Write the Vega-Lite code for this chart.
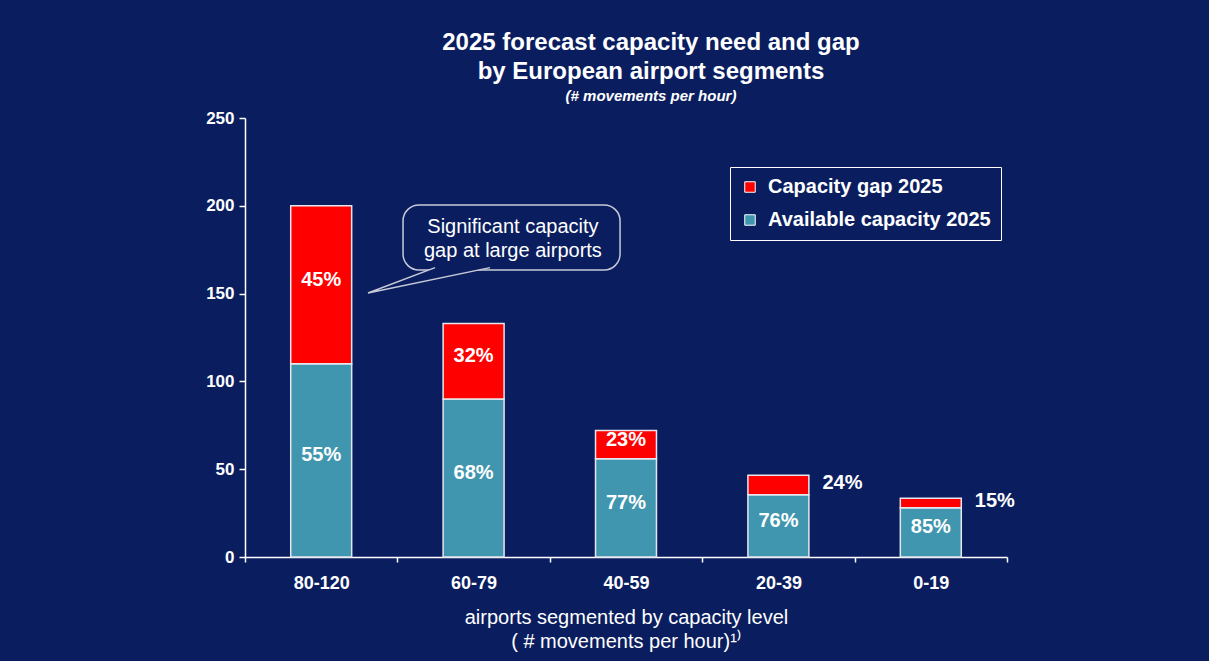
{
  "$schema": "https://vega.github.io/schema/vega-lite/v6.json",
  "width": 762,
  "height": 439,
  "autosize": {"type": "none"},
  "padding": {"left": 245, "top": 118, "right": 202, "bottom": 104},
  "background": "#0a1e5f",
  "config": {
    "view": {"stroke": null},
    "font": "Liberation Sans"
  },
  "title": {
    "text": ["2025 forecast capacity need and gap", "by European airport segments"],
    "subtitle": "(# movements per hour)",
    "font": "Liberation Sans",
    "fontSize": 24,
    "fontWeight": "bold",
    "color": "#ffffff",
    "lineHeight": 29,
    "subtitleFont": "Liberation Sans",
    "subtitleFontSize": 15,
    "subtitleFontStyle": "italic",
    "subtitleFontWeight": "bold",
    "subtitleColor": "#ffffff",
    "subtitlePadding": 5,
    "anchor": "middle",
    "dx": 25,
    "offset": 5
  },
  "datasets": {
    "bars": [
      {"segment": "80-120", "type": "Available capacity 2025", "value": 110, "pct": "55%"},
      {"segment": "80-120", "type": "Capacity gap 2025", "value": 90, "pct": "45%"},
      {"segment": "60-79", "type": "Available capacity 2025", "value": 90, "pct": "68%"},
      {"segment": "60-79", "type": "Capacity gap 2025", "value": 43, "pct": "32%"},
      {"segment": "40-59", "type": "Available capacity 2025", "value": 56, "pct": "77%"},
      {"segment": "40-59", "type": "Capacity gap 2025", "value": 16, "pct": "23%"},
      {"segment": "20-39", "type": "Available capacity 2025", "value": 35.5, "pct": "76%"},
      {"segment": "20-39", "type": "Capacity gap 2025", "value": 11, "pct": "24%"},
      {"segment": "0-19", "type": "Available capacity 2025", "value": 28, "pct": "85%"},
      {"segment": "0-19", "type": "Capacity gap 2025", "value": 5.5, "pct": "15%"}
    ],
    "bubble": [
      {"ax1": 1.037, "ax2": 2.461, "ay1": 163.4, "ay2": 200.5, "ax": 1.758, "ay": 188.0, "label": "Significant capacity\ngap at large airports"}
    ],
    "tail": [
      {"o": 1, "ax": 1.247, "ay": 164.8},
      {"o": 2, "ax": 0.807, "ay": 150.3},
      {"o": 3, "ax": 1.608, "ay": 164.8}
    ]
  },
  "resolve": {"scale": {"x": "independent", "y": "independent"}, "axis": {"x": "independent", "y": "independent"}},
  "layer": [
    {
      "data": {"name": "bars"},
      "layer": [
        {
          "mark": {"type": "bar", "width": {"band": 0.4}, "stroke": "#e6e6ee", "strokeWidth": 1.5},
          "encoding": {
            "x": {
              "field": "segment",
              "type": "nominal",
              "sort": ["80-120", "60-79", "40-59", "20-39", "0-19"],
              "scale": {"domain": ["80-120", "60-79", "40-59", "20-39", "0-19"], "paddingInner": 0, "paddingOuter": 0},
              "axis": {
                "title": ["airports segmented by capacity level", "( # movements per hour)¹⁾"],
                "titleFont": "Liberation Sans",
                "titleFontSize": 20,
                "titleFontWeight": "normal",
                "titleColor": "#ffffff",
                "titleLineHeight": 24,
                "titlePadding": 15,
                "labelAngle": 0,
                "labelFont": "Liberation Sans",
                "labelFontSize": 18,
                "labelFontWeight": "bold",
                "labelColor": "#ffffff",
                "labelPadding": 12,
                "tickBand": "extent",
                "tickColor": "#ffffff",
                "tickSize": 5,
                "tickWidth": 1.5,
                "domainColor": "#ffffff",
                "domainWidth": 1.5,
                "grid": false
              }
            },
            "y": {
              "field": "value",
              "type": "quantitative",
              "stack": "zero",
              "scale": {"domain": [0, 250], "nice": false},
              "axis": {
                "title": null,
                "values": [0, 50, 100, 150, 200, 250],
                "labelFont": "Liberation Sans",
                "labelFontSize": 17,
                "labelFontWeight": "bold",
                "labelColor": "#ffffff",
                "labelPadding": 5,
                "tickColor": "#ffffff",
                "tickSize": 6,
                "tickWidth": 1.5,
                "domainColor": "#ffffff",
                "domainWidth": 1.5,
                "grid": false
              }
            },
            "color": {
              "field": "type",
              "type": "nominal",
              "scale": {"domain": ["Capacity gap 2025", "Available capacity 2025"], "range": ["#ff0000", "#4096af"]},
              "legend": {
                "title": null,
                "orient": "none",
                "legendX": 485,
                "legendY": 49,
                "fillColor": "#0a1e5f",
                "strokeColor": "#ffffff",
                "padding": 10,
                "rowPadding": 13,
                "symbolType": "square",
                "symbolSize": 110,
                "symbolStrokeColor": "#ffffff",
                "symbolStrokeWidth": 1,
                "symbolOpacity": 1,
                "labelFont": "Liberation Sans",
                "labelFontSize": 20,
                "labelFontWeight": "bold",
                "labelColor": "#ffffff",
                "labelOffset": 8,
                "labelLimit": 400
              }
            },
            "order": {"field": "type", "sort": "ascending"}
          }
        },
        {
          "transform": [
            {"stack": "value", "groupby": ["segment"], "sort": [{"field": "type", "order": "ascending"}], "as": ["v0", "v1"]},
            {"calculate": "(datum.v0 + datum.v1) / 2", "as": "mid"},
            {"filter": "datum.value >= 12"}
          ],
          "mark": {"type": "text", "font": "Liberation Sans", "fontSize": 20, "fontWeight": "bold", "color": "#ffffff", "align": "center", "baseline": "middle", "dy": -5},
          "encoding": {
            "x": {"field": "segment", "type": "nominal"},
            "y": {"field": "mid", "type": "quantitative"},
            "text": {"field": "pct"}
          }
        },
        {
          "transform": [
            {"stack": "value", "groupby": ["segment"], "sort": [{"field": "type", "order": "ascending"}], "as": ["v0", "v1"]},
            {"calculate": "(datum.v0 + datum.v1) / 2", "as": "mid"},
            {"filter": "datum.value < 12"}
          ],
          "mark": {"type": "text", "font": "Liberation Sans", "fontSize": 20, "fontWeight": "bold", "color": "#ffffff", "align": "left", "baseline": "middle", "dx": 44, "dy": -2},
          "encoding": {
            "x": {"field": "segment", "type": "nominal"},
            "y": {"field": "mid", "type": "quantitative"},
            "text": {"field": "pct"}
          }
        }
      ]
    },
    {
      "layer": [
        {
          "data": {"name": "bubble"},
          "mark": {"type": "rect", "cornerRadius": 16, "fill": "#0a1e5f", "stroke": "#c8cad8", "strokeWidth": 1.5},
          "encoding": {
            "x": {"field": "ax1", "type": "quantitative", "scale": {"domain": [0, 5], "nice": false, "zero": false}, "axis": null},
            "x2": {"field": "ax2"},
            "y": {"field": "ay1", "type": "quantitative", "scale": {"domain": [0, 250], "nice": false, "zero": false}, "axis": null},
            "y2": {"field": "ay2"}
          }
        },
        {
          "data": {"name": "tail"},
          "mark": {"type": "line", "fill": "#0a1e5f", "stroke": "#c8cad8", "strokeWidth": 1.5, "interpolate": "linear"},
          "encoding": {
            "x": {"field": "ax", "type": "quantitative", "axis": null},
            "y": {"field": "ay", "type": "quantitative", "axis": null},
            "order": {"field": "o"}
          }
        },
        {
          "data": {"name": "bubble"},
          "mark": {"type": "text", "font": "Liberation Sans", "fontSize": 20, "color": "#ffffff", "align": "center", "baseline": "middle", "lineBreak": "\n", "lineHeight": 24},
          "encoding": {
            "x": {"field": "ax", "type": "quantitative", "axis": null},
            "y": {"field": "ay", "type": "quantitative", "axis": null},
            "text": {"field": "label"}
          }
        }
      ]
    }
  ]
}
